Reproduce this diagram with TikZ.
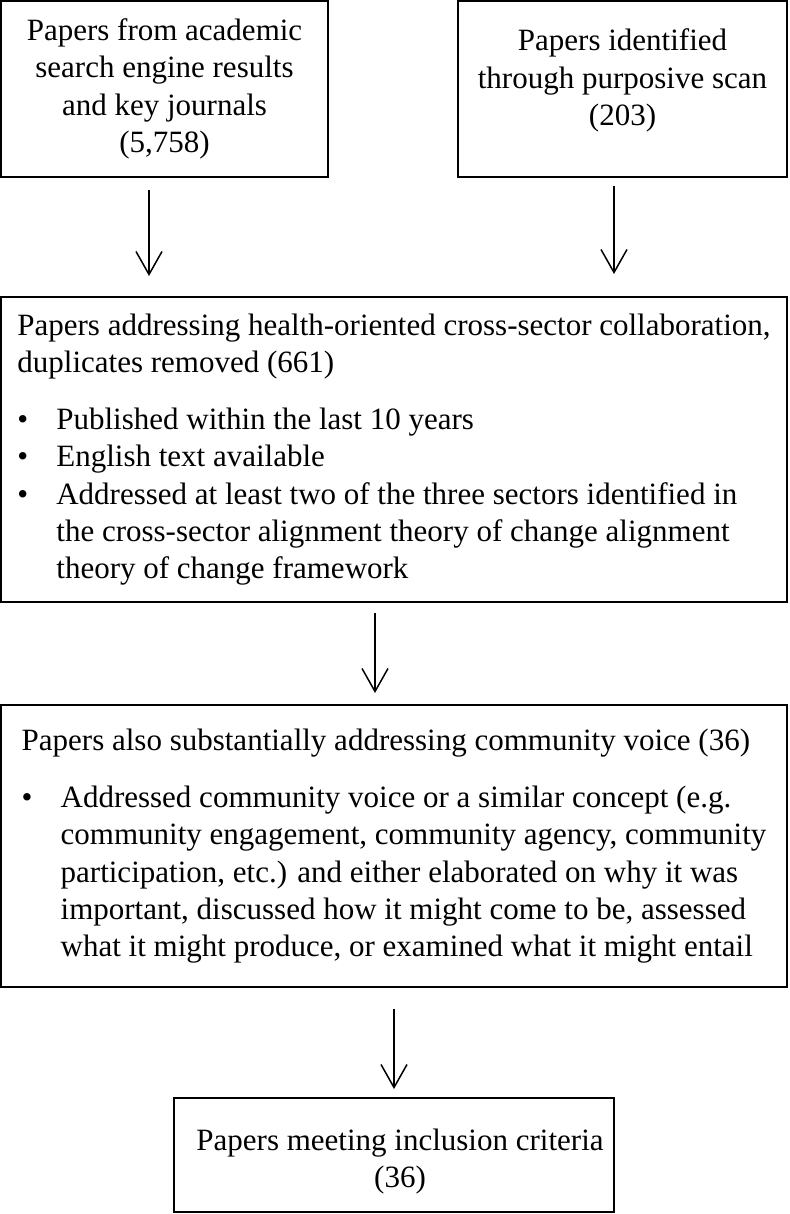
\documentclass[tikz,border=0pt]{standalone}
\usepackage{fontspec}
\setmainfont{Liberation Serif}
\usetikzlibrary{arrows.meta,positioning}

\newcommand{\bulitem}{\makebox[19.5pt][l]{\textbullet}}
\newcommand{\bulcont}{\hspace*{19.5pt}}

\begin{document}
\begin{tikzpicture}[x=0.5pt, y=-0.5pt,
    box/.style={draw, line width=1pt, inner sep=0pt, font=\fontsize{15.5}{18.65}\selectfont},
    flow/.style={line width=0.75pt, -{Straight Barb[length=11.5pt, width=13pt]}}]
    \useasboundingbox (0,0) rectangle (789,1214);

    % Sources
    \node[box, align=center, minimum width=163.5pt, minimum height=88pt] (search) at (164.5,89)
        {Papers from academic\\search engine results\\and key journals\\(5,758)};
    \node[box, align=center, minimum width=164.5pt, minimum height=88pt] (scan) at (622.5,89)
        {Papers identified\\through purposive scan\\(203)\\[-6.75pt]\mbox{}};

    % Screening
    \node[box, align=left, minimum width=393pt, minimum height=152.5pt] (dupl) at (394,449.5)
        {Papers addressing health-oriented cross-sector collaboration,\\
         duplicates removed (661)\\[10pt]
         \bulitem Published within the last 10 years\\
         \bulitem English text available\\
         \bulitem Addressed at least two of the three sectors identified in\\
         \bulcont the cross-sector alignment theory of change alignment\\
         \bulcont theory of change framework};

    \node[box, align=left, minimum width=393pt, minimum height=141pt] (voice) at (394,846)
        {Papers also substantially addressing community voice (36)\\[10pt]
         \bulitem Addressed community voice or a similar concept (e.g.\\
         \bulcont community engagement, community agency, community\\
         \bulcont participation, etc.) and either elaborated on why it was\\
         \bulcont important, discussed how it might come to be, assessed\\
         \bulcont what it might produce, or examined what it might entail};

    % Result
    \node[box, align=center, minimum width=220pt, minimum height=57pt] (incl) at (394,1155)
        {\mbox{}\\[-1.15pt]\hspace*{6pt}Papers meeting inclusion criteria\\\hspace*{6pt}(36)};

    % Arrows
    \draw[flow, shorten <=6pt, shorten >=10pt] ([xshift=-7.75pt]search.south) -- ([xshift=-7.75pt]search.south |- dupl.north);
    \draw[flow, shorten <=4pt, shorten >=11pt] ([xshift=-4.25pt]scan.south) -- ([xshift=-4.25pt]scan.south |- dupl.north);
    \draw[flow, shorten <=5pt, shorten >=5.5pt] ([xshift=-9.5pt]dupl.south) -- ([xshift=-9.5pt]dupl.south |- voice.north);
    \draw[flow, shorten <=10.5pt, shorten >=4pt] (voice.south) -- (voice.south |- incl.north);
\end{tikzpicture}
\end{document}
